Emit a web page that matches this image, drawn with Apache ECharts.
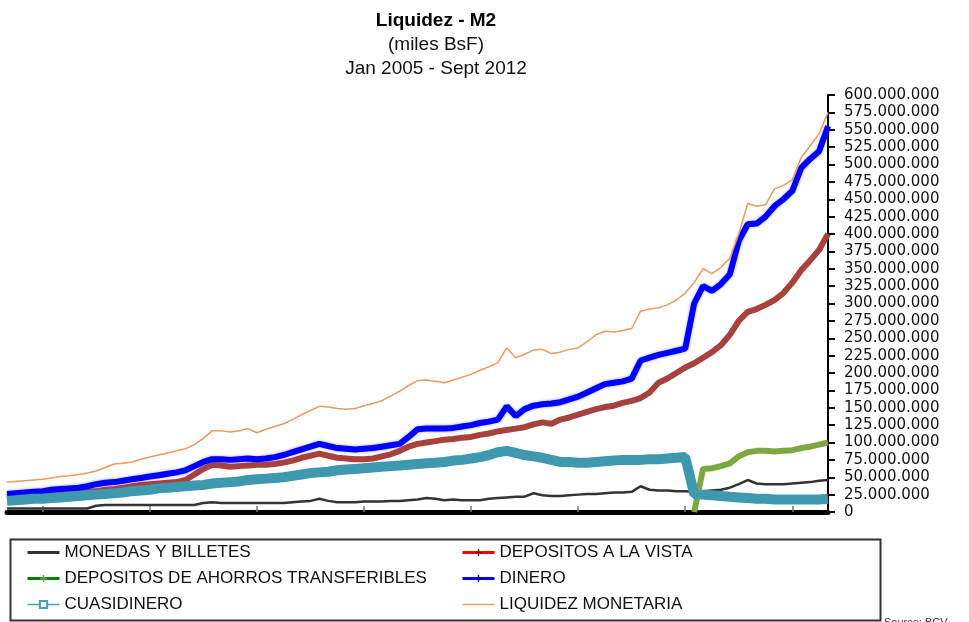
<!DOCTYPE html>
<html>
<head>
<meta charset="utf-8">
<script src="https://cdn.jsdelivr.net/npm/echarts@6/dist/echarts.min.js"></script>
<style>
  html, body { margin: 0; padding: 0; background: #fff; }
  #chart { width: 969px; height: 622px; }
</style>
</head>
<body>
<div id="chart"></div>
<script>
// values in millions of "miles BsF", one point per month, Jan 2005 - Sept 2012
var monedas = [5,5,5,5,5,5,5,5,5,5,9,10,10,10,10,10,10,10,10,10,10,10,13,14,13,13,13,13,13,13,13,13,14,15,16,19,16,14,14,14,15,15,15,16,16,17,18,20,19,17,18,17,17,17,19,20,21,22,22,27,24,23,23,24,25,26,26,27,28,28,29,37,32,31,31,30,30,29,30,31,32,35,40,46,41,40,40,40,41,42,43,45,46];
var depVista = [21,22,23,24,25,26,27,28,29,30,30,32,33,35,37,39,40,41,42,43,46,54,62,68,67,65,66,67,68,68,69,71,74,78,81,84,81,78,77,76,76,77,80,83,88,94,98,100,102,104,105,107,108,111,113,116,118,120,122,126,129,127,133,136,140,144,148,151,153,157,160,164,172,186,192,200,208,214,222,230,240,255,275,288,292,298,305,315,330,348,362,377,400];
var depAhorros = [null,null,null,null,null,null,null,null,null,null,null,null,null,null,null,null,null,null,null,null,null,null,null,null,null,null,null,null,null,null,null,null,null,null,null,null,null,null,null,null,null,null,null,null,null,null,null,null,null,null,null,null,null,null,null,null,null,null,null,null,null,null,null,null,null,null,null,null,null,null,null,null,null,null,null,null,null,0,62,63,66,70,80,86,88,88,87,88,89,92,94,97,100];
var dinero = [26,27,28,29,30,32,33,34,35,37,40,42,43,45,47,49,51,53,55,57,60,66,72,76,76,75,76,77,76,77,79,82,86,90,94,98,95,92,91,90,91,92,94,96,98,108,119,120,120,120,121,123,125,128,130,133,152,138,148,153,155,156,158,162,166,172,178,184,186,188,192,218,222,226,229,232,235,300,325,318,328,342,390,414,415,425,440,450,462,495,508,519,555];
var cuasidinero = [16,17,18,19,19,20,21,22,23,24,25,26,27,28,30,31,32,34,35,36,37,38,39,41,42,43,44,46,47,48,49,50,52,54,56,57,58,60,61,62,63,64,65,66,67,68,69,70,71,72,74,75,77,79,82,86,88,85,82,80,78,75,72,72,71,71,72,73,74,75,75,75,76,76,77,78,79,26,25,24,23,22,21,20,19,19,18,18,18,18,18,18,19];
var liquidez = [43,44,45,46,47,49,51,52,54,56,59,64,69,70,72,76,79,82,85,88,91,97,106,117,117,115,117,120,114,119,123,127,133,140,146,152,151,149,148,149,153,156,160,167,174,182,189,190,188,186,190,194,198,204,209,215,236,222,227,233,234,228,230,234,236,245,255,260,259,261,264,289,292,294,298,305,315,330,350,343,352,365,400,444,440,442,465,470,478,510,527,544,575];

var monthNames = ['Jan','Feb','Mar','Apr','May','Jun','Jul','Aug','Sep','Oct','Nov','Dec'];
var months = [];
for (var y = 2005; y <= 2012; y++) {
  for (var m = 0; m < 12; m++) {
    if (y === 2012 && m > 8) break;
    months.push(monthNames[m] + ' ' + y);
  }
}

var crossPath = 'path://M4,0H6V4H10V6H6V10H4V6H0V4H4Z';
var font = 'Liberation Sans';

function fmt(v) {
  if (v === 0) return '0';
  return String(Math.round(v * 1e6)).replace(/\B(?=(\d{3})+(?!\d))/g, '.');
}

var myChart = echarts.init(document.getElementById('chart'));
var option = {
  animation: false,
  backgroundColor: '#fff',
  title: {
    text: 'Liquidez - M2',
    subtext: '(miles BsF)\nJan 2005 - Sept 2012',
    left: 431,
    textAlign: 'center',
    top: 6,
    itemGap: 3,
    textStyle: { fontFamily: font, fontSize: 19, fontWeight: 'bold', color: '#000' },
    subtextStyle: { fontFamily: font, fontSize: 19, color: '#111', lineHeight: 24 }
  },
  grid: { left: 7, right: 141, top: 95, bottom: 110, containLabel: false },
  xAxis: {
    type: 'category',
    data: months,
    boundaryGap: false,
    axisLine: { lineStyle: { color: '#000', width: 5 } },
    axisTick: {
      inside: true, length: 6,
      interval: function (idx) { return idx % 12 === 4; },
      lineStyle: { color: '#777', width: 1.5 }
    },
    axisLabel: { show: false },
    splitLine: { show: false }
  },
  yAxis: {
    type: 'value',
    position: 'right',
    min: 0,
    max: 600,
    interval: 25,
    axisLine: { show: true, lineStyle: { color: '#000', width: 2 } },
    axisTick: { show: true, length: 7, lineStyle: { color: '#000', width: 2 } },
    axisLabel: {
      margin: 16,
      fontFamily: 'DejaVu Sans',
      fontSize: 15,
      color: '#111',
      formatter: fmt
    },
    splitLine: { show: false }
  },
  legend: [
    {
      left: 21, top: 539, orient: 'vertical',
      itemWidth: 32, itemHeight: 9, itemGap: 9,
      textStyle: { fontFamily: font, fontSize: 17, color: '#111' },
      selectedMode: false,
      data: [
        { name: 'MONEDAS Y BILLETES', itemStyle: { opacity: 0 }, lineStyle: { color: '#333', width: 3 } },
        { name: 'DEPOSITOS DE AHORROS TRANSFERIBLES', itemStyle: { color: '#6aa050' }, lineStyle: { color: '#008000', width: 3 } },
        { name: 'CUASIDINERO', itemStyle: { color: '#4a9fb8' }, lineStyle: { color: '#4a9fb8', width: 1.5 } }
      ]
    },
    {
      left: 456, top: 539, orient: 'vertical',
      itemWidth: 32, itemHeight: 9, itemGap: 9,
      textStyle: { fontFamily: font, fontSize: 17, color: '#111' },
      selectedMode: false,
      data: [
        { name: 'DEPOSITOS A LA VISTA', itemStyle: { color: '#6a1a1a' }, lineStyle: { color: '#ff0000', width: 3 } },
        { name: 'DINERO', itemStyle: { color: '#000080' }, lineStyle: { color: '#0000ff', width: 3 } },
        { name: 'LIQUIDEZ MONETARIA', itemStyle: { opacity: 0 }, lineStyle: { color: '#f0a060', width: 1.5 } }
      ]
    }
  ],
  graphic: [
    {
      type: 'rect', left: 8, top: 537, silent: true,
      shape: { width: 870, height: 81 },
      style: { fill: 'none', stroke: '#333', lineWidth: 2 }
    },
    {
      type: 'text', left: 884, top: 617, silent: true,
      style: { text: 'Source: BCV', fontFamily: font, fontSize: 11, fill: '#333' }
    }
  ],
  series: [
    {
      name: 'MONEDAS Y BILLETES', type: 'line', data: monedas,
      symbol: 'circle', showSymbol: false,
      itemStyle: { color: '#333' },
      lineStyle: { color: '#333', width: 2.5 }
    },
    {
      name: 'DEPOSITOS A LA VISTA', type: 'line', data: depVista,
      symbol: crossPath, showSymbol: false,
      itemStyle: { color: '#6a1a1a' },
      lineStyle: { color: '#a8403c', width: 6 }
    },
    {
      name: 'DEPOSITOS DE AHORROS TRANSFERIBLES', type: 'line', data: depAhorros,
      symbol: crossPath, showSymbol: false, connectNulls: false,
      itemStyle: { color: '#6aa050' },
      lineStyle: { color: '#7ca840', width: 6 }
    },
    {
      name: 'DINERO', type: 'line', data: dinero,
      symbol: crossPath, showSymbol: false,
      itemStyle: { color: '#000080' },
      lineStyle: { color: '#0000ff', width: 6, shadowBlur: 3, shadowColor: 'rgba(90,90,255,0.6)' }
    },
    {
      name: 'CUASIDINERO', type: 'line', data: cuasidinero,
      symbol: 'emptyRect', showSymbol: false,
      itemStyle: { color: '#4a9fb8' },
      lineStyle: { color: '#3e98ae', width: 10 }
    },
    {
      name: 'LIQUIDEZ MONETARIA', type: 'line', data: liquidez,
      symbol: 'circle', showSymbol: false,
      itemStyle: { color: '#f0a060' },
      lineStyle: { color: '#ec9a5e', width: 1.5 }
    }
  ]
};
myChart.setOption(option);
</script>
</body>
</html>
